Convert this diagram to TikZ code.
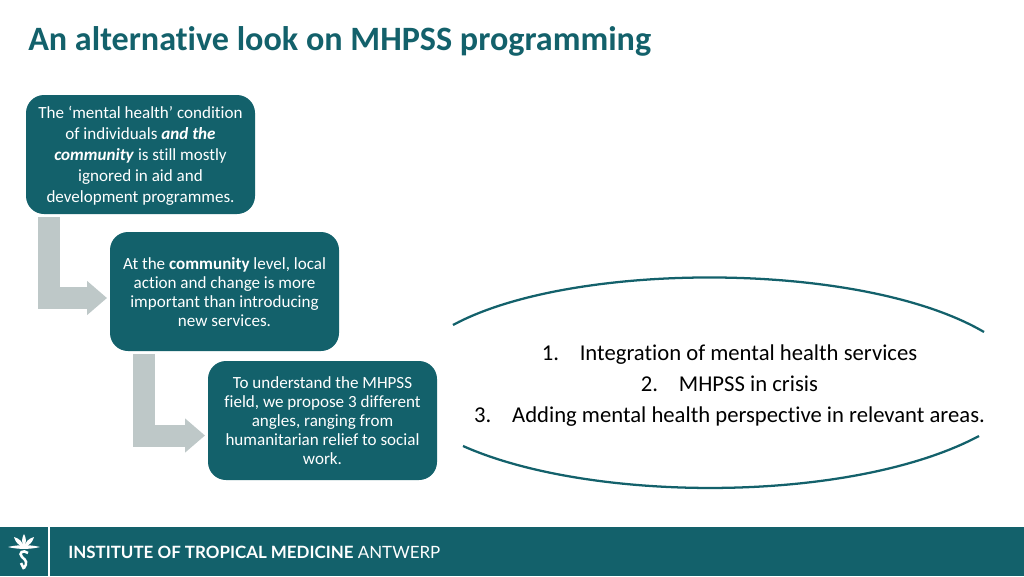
\documentclass[tikz,border=0pt]{standalone}
\usepackage{fontspec}
\setmainfont[Ligatures=NoCommon]{Carlito}
\newfontfamily\logofont{Lato}
\usetikzlibrary{arrows.meta}
\definecolor{itmteal}{RGB}{19,97,107}
\definecolor{arrowgrey}{RGB}{190,200,200}
\tikzset{
	textbox/.style={draw=none,fill=itmteal,text=white,rounded corners=13.5pt,minimum width=171.75pt,minimum height=89.25pt,inner sep=0pt,align=center},
	bentarrow/.style={draw=arrowgrey,line width=16.5pt,-{Triangle[length=15pt,width=24.75pt,fill=arrowgrey]}},
	bowline/.style={draw=itmteal,line width=1.7pt},
}
\begin{document}
\begin{tikzpicture}[x=0.75pt,y=-0.75pt]
	\useasboundingbox (0,0) rectangle (1024,576);
	\node[anchor=west,inner sep=0pt,text=itmteal,font=\fontsize{25.6}{30}\selectfont\bfseries] (title) at (28,41.5) {An alternative look on MHPSS programming};

	\node[textbox,font=\fontsize{12.8}{15.7}\selectfont] (boxone) at (140.5,154.5) {\rule{0pt}{11.2pt}The ‘mental health’ condition\\of individuals \textbf{\textit{and the}}\\\textbf{\textit{community}} is still mostly\\ignored in aid and\\development programmes.};
	\node[textbox,font=\fontsize{12.8}{14.25}\selectfont] (boxtwo) at (224.5,291.5) {\rule{0pt}{10.5pt}At the \textbf{community} level, local\\action and change is more\\important than introducing\\new services.};
	\node[textbox,font=\fontsize{12.8}{14.25}\selectfont] (boxthree) at (322.5,420.5) {To understand the MHPSS\\field, we propose 3 different\\angles, ranging from\\humanitarian relief to social\\work.};

	\coordinate (topa) at (49,217);
	\coordinate (tipa) at (107,298);
	\coordinate (topb) at (143.5,354);
	\coordinate (tipb) at (205,435.5);
	\draw[bentarrow] (topa) |- (tipa);
	\draw[bentarrow] (topb) |- (tipb);

	\coordinate (bowa) at (453,325);
	\coordinate (bowb) at (984,332);
	\coordinate (bowc) at (463,446);
	\coordinate (bowd) at (979,436);
	\draw[bowline] (bowa) .. controls (572,260.5) and (862,260.5) .. (bowb);
	\draw[bowline] (bowc) .. controls (592,503.5) and (852,503.5) .. (bowd);

	\node[align=center,font=\fontsize{17}{23.25}\selectfont] (points) at (729.5,385.8) {\makebox[28.5pt][l]{1.}Integration of mental health services\\\makebox[28.5pt][l]{2.}MHPSS in crisis\\\makebox[28.5pt][l]{3.}Adding mental health perspective in relevant areas.};

	% footer
	\fill[itmteal] (0,527) rectangle (1024,576);
	\draw[white,line width=0.9pt] (49,527) -- (49,576);
	\node[anchor=west,inner sep=0pt,text=white,font=\logofont\fontsize{12.7}{16}\selectfont] (institute) at (68,552) {\textbf{INSTITUTE OF TROPICAL MEDICINE} ANTWERP};

	% palm logo
	\foreach \tipx/\tipy in {14/537,24/534,34/537}
		\fill[white] (24,547) to[bend left=30] (\tipx,\tipy) to[bend left=30] (24,547);
	\fill[white] (8,547) .. controls (18,544.5) and (30,544.5) .. (40,547) .. controls (30,549.5) and (18,549.5) .. (8,547) -- cycle;
	\draw[white,line width=1.9pt] (28,553) .. controls (23,549) and (18,553) .. (22,557) .. controls (26,560) and (28,563) .. (24,568);
	\draw[white,line width=1.9pt] (21,563) -- (24,569);
\end{tikzpicture}
\end{document}
